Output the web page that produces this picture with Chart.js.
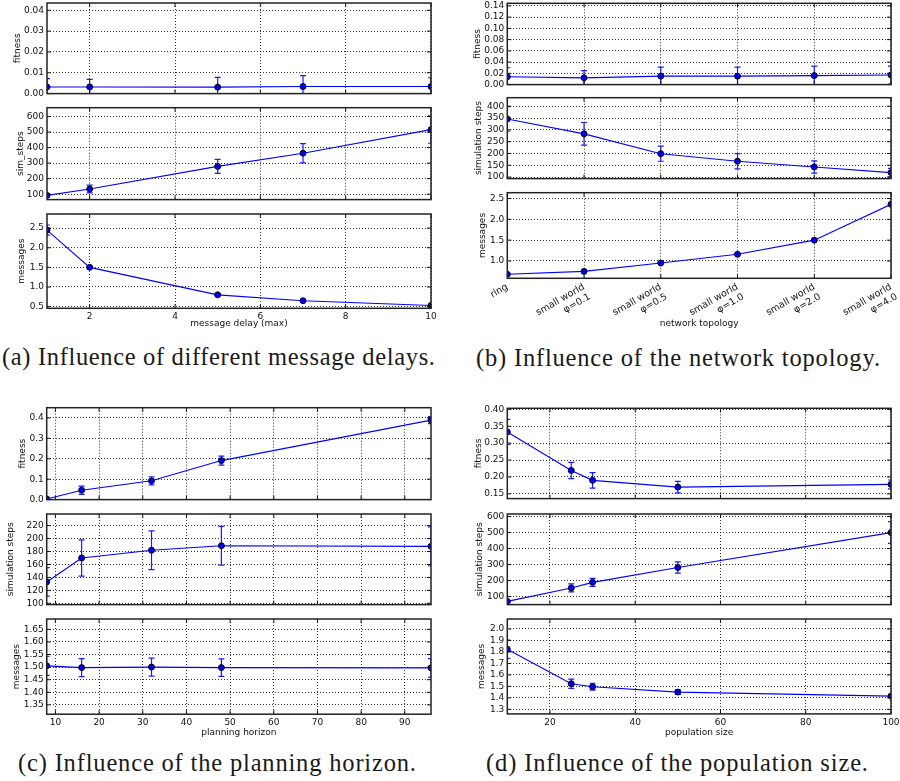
<!DOCTYPE html>
<html>
<head>
<meta charset="utf-8">
<script src="https://cdn.jsdelivr.net/npm/chart.js@4.4.1/dist/chart.umd.min.js"></script>
<style>
  body { margin: 0; background: #fff; width: 900px; height: 781px; position: relative; overflow: hidden; }
  canvas { position: absolute; }
  .cap { position: absolute; left: 0; top: 0; font-family: "Liberation Serif", "DejaVu Serif", serif; font-size: 24.5px;
         color: #1a1a1a; white-space: nowrap; line-height: 1; }
</style>
</head>
<body>
<div class="cap" data-x="2" data-w="433" data-y="357">(a) Influence of different message delays.</div>
<div class="cap" data-x="476" data-w="404" data-y="358">(b) Influence of the network topology.</div>
<div class="cap" data-x="18" data-w="398" data-y="763">(c) Influence of the planning horizon.</div>
<div class="cap" data-x="486" data-w="382" data-y="763">(d) Influence of the population size.</div>
<script>
// ---- (a) message delay ----
const delayX = [1, 2, 5, 7, 10];
const delayFitness = [0.0032, 0.0032, 0.0031, 0.0034, 0.0034];
const delayFitnessErr = [0.0040, 0.0036, 0.0047, 0.0052, 0.0042];
const delaySteps = [92, 133, 279, 364, 516];
const delayStepsErr = [8, 25, 45, 62, 88];
const delayMsgs = [2.45, 1.50, 0.80, 0.65, 0.53];
const delayMsgsErr = [0.13, 0.02, 0.01, 0.01, 0.01];

// ---- (b) network topology ----
const topoLabels = ["ring", ["small world", "\u03c6=0.1"], ["small world", "\u03c6=0.5"],
  ["small world", "\u03c6=1.0"], ["small world", "\u03c6=2.0"], ["small world", "\u03c6=4.0"]];
const topoX = [0, 1, 2, 3, 4, 5];
const topoFitness = [0.014, 0.012, 0.015, 0.015, 0.016, 0.017];
const topoFitnessErr = [0.016, 0.013, 0.016, 0.016, 0.017, 0.016];
const topoSteps = [346, 283, 199, 167, 143, 119];
const topoStepsErr = [52, 48, 32, 32, 26, 18];
const topoMsgs = [0.68, 0.75, 0.95, 1.16, 1.50, 2.36];
const topoMsgsErr = [0.01, 0.01, 0.01, 0.01, 0.01, 0.01];

// ---- (c) planning horizon ----
const horizonX = [8, 16, 32, 48, 96];
const horizonFitness = [0.003, 0.046, 0.092, 0.191, 0.389];
const horizonFitnessErr = [0.003, 0.020, 0.020, 0.022, 0.017];
const horizonSteps = [133, 170, 182, 189, 188];
const horizonStepsErr = [22, 28, 30, 30, 30];
const horizonMsgs = [1.505, 1.498, 1.500, 1.498, 1.497];
const horizonMsgsErr = [0.038, 0.036, 0.036, 0.035, 0.037];

// ---- (d) population size ----
const popX = [10, 25, 30, 50, 100];
const popFitness = [0.333, 0.219, 0.190, 0.170, 0.178];
const popFitnessErr = [0.037, 0.024, 0.023, 0.017, 0.013];
const popSteps = [70, 154, 189, 282, 500];
const popStepsErr = [6, 25, 25, 35, 68];
const popMsgs = [1.824, 1.523, 1.497, 1.450, 1.415];
const popMsgsErr = [0.08, 0.04, 0.03, 0.02, 0.01];

// ---- tick labels ----
const delayXTicks = [2, 4, 6, 8, 10];
const horizonXTicks = [10, 20, 30, 40, 50, 60, 70, 80, 90];
const popXTicks = [20, 40, 60, 80, 100];
const ticksA1 = [0, 0.01, 0.02, 0.03, 0.04];
const ticksA2 = [100, 200, 300, 400, 500, 600];
const ticksA3 = [0.5, 1.0, 1.5, 2.0, 2.5];
const ticksB1 = [0, 0.02, 0.04, 0.06, 0.08, 0.10, 0.12, 0.14];
const ticksB2 = [100, 150, 200, 250, 300, 350, 400];
const ticksB3 = [1.0, 1.5, 2.0, 2.5];
const ticksC1 = [0.0, 0.1, 0.2, 0.3, 0.4];
const ticksC2 = [100, 120, 140, 160, 180, 200, 220];
const ticksC3 = [1.35, 1.40, 1.45, 1.50, 1.55, 1.60, 1.65];
const ticksD1 = [0.15, 0.20, 0.25, 0.30, 0.35, 0.40];
const ticksD2 = [100, 200, 300, 400, 500, 600];
const ticksD3 = [1.3, 1.4, 1.5, 1.6, 1.7, 1.8, 1.9, 2.0];

Chart.defaults.font.family = "'DejaVu Sans', sans-serif";
Chart.defaults.font.size = 9;
Chart.defaults.color = "#111";
Chart.defaults.animation = false;

// error bars drawn under the markers, clipped like matplotlib
const errorBars = {
    id: "errorBars",
    beforeDatasetsDraw(chart) {
        const { ctx, chartArea: a, scales: { x, y } } = chart;
        ctx.save();
        ctx.beginPath();
        ctx.rect(a.left, a.top, a.right - a.left, a.bottom - a.top);
        ctx.clip();
        ctx.strokeStyle = "#1a1aff";
        ctx.lineWidth = 1.2;
        chart.data.datasets.forEach(ds => {
            if (!ds.err) return;
            ds.data.forEach((p, i) => {
                const e = ds.err[i];
                const px = x.getPixelForValue(p.x);
                const top = y.getPixelForValue(p.y + e);
                const bot = y.getPixelForValue(p.y - e);
                ctx.beginPath();
                ctx.moveTo(px, top); ctx.lineTo(px, bot);
                ctx.moveTo(px - 3, top); ctx.lineTo(px + 3, top);
                ctx.moveTo(px - 3, bot); ctx.lineTo(px + 3, bot);
                ctx.stroke();
            });
        });
        ctx.restore();
    },
};

// axes frame with inward tick marks on all four sides
const frame = {
    id: "frame",
    afterDraw(chart) {
        const { ctx, chartArea: a, scales: { x, y } } = chart;
        ctx.save();
        ctx.strokeStyle = "#111";
        ctx.lineWidth = 1;
        ctx.beginPath();
        x.ticks.forEach(t => {
            const px = x.getPixelForValue(t.value);
            ctx.moveTo(px, a.top); ctx.lineTo(px, a.top + 4);
            ctx.moveTo(px, a.bottom); ctx.lineTo(px, a.bottom - 4);
        });
        y.ticks.forEach(t => {
            const py = y.getPixelForValue(t.value);
            ctx.moveTo(a.left, py); ctx.lineTo(a.left + 4, py);
            ctx.moveTo(a.right, py); ctx.lineTo(a.right - 4, py);
        });
        ctx.stroke();
        ctx.lineWidth = 1.5;
        ctx.strokeStyle = "#222";
        ctx.strokeRect(a.left, a.top, a.right - a.left, a.bottom - a.top);
        ctx.restore();
    },
};

function subplot(s) {
    const T = 12, R = 16;
    const canvasLeft = Math.round(s.labelX - 5.4);
    const canvasTop = Math.round(s.top - T);
    const L = s.left - canvasLeft;
    const top = s.top - canvasTop;
    const B = s.xTitle ? s.xTitleY + 5.4 - s.bottom : 4;
    const W = Math.round(L + (s.right - s.left) + R);
    const H = Math.round(top + (s.bottom - s.top) + B);

    const cv = document.createElement("canvas");
    cv.width = W; cv.height = H;
    cv.style.left = canvasLeft + "px";
    cv.style.top = canvasTop + "px";
    cv.style.width = W + "px";
    cv.style.height = H + "px";
    document.body.appendChild(cv);

    const gridCol = "rgba(0,0,0,0.8)";
    new Chart(cv, {
        type: "line",
        data: {
            datasets: [{
                data: s.xs.map((v, i) => ({ x: v, y: s.ys[i] })),
                err: s.err,
                borderColor: "#0000ff",
                borderWidth: 1.1,
                pointRadius: 3,
                pointBackgroundColor: "#0000ee",
                pointBorderColor: "#000",
                pointBorderWidth: 0.9,
                tension: 0,
            }],
        },
        options: {
            responsive: false,
            devicePixelRatio: 1,
            layout: { padding: { top: top, right: R, left: 0, bottom: 0 } },
            plugins: { legend: { display: false }, tooltip: { enabled: false } },
            scales: {
                x: {
                    type: "linear",
                    min: s.xMin, max: s.xMax,
                    afterBuildTicks: sc => { sc.ticks = s.xTicks.map(v => ({ value: v })); },
                    afterFit: sc => { sc.height = B; },
                    ticks: {
                        display: !!s.xTitle,
                        autoSkip: false,
                        padding: 3,
                        minRotation: s.rot || 0, maxRotation: s.rot || 0,
                        font: { size: s.rot ? 9.5 : 9 },
                        callback: s.xLabel || (v => String(v)),
                    },
                    grid: { color: gridCol, lineWidth: 1, drawTicks: false },
                    border: { display: false, dash: [1, 2] },
                    title: { display: !!s.xTitle, text: s.xTitle || "", padding: 0, font: { size: 9 } },
                },
                y: {
                    type: "linear",
                    min: s.yMin, max: s.yMax,
                    afterBuildTicks: sc => { sc.ticks = s.yTicks.map(v => ({ value: v })); },
                    afterFit: sc => { sc.width = L; },
                    ticks: { autoSkip: false, padding: 3, callback: v => v.toFixed(s.dec) },
                    grid: { color: gridCol, lineWidth: 1, drawTicks: false },
                    border: { display: false, dash: [1, 2] },
                    title: { display: true, text: s.yTitle, padding: 0, font: { size: 9 } },
                },
            },
        },
        plugins: [errorBars, frame],
    });
}

const colA = { left: 47, right: 430.5 };
const colB = { left: 507.3, right: 890.7 };
const colC = { left: 46.7, right: 430.7 };

const panels = [
    { ...colA, top: 3, bottom: 98.3, labelX: 17.3, yTitle: "fitness", yMin: 0, yMax: 0.0435, yTicks: ticksA1, dec: 2,
      xMin: 1, xMax: 10, xTicks: delayXTicks, xs: delayX, ys: delayFitness, err: delayFitnessErr },
    { ...colA, top: 107.7, bottom: 204, labelX: 20, yTitle: "sim_steps", yMin: 65, yMax: 657, yTicks: ticksA2, dec: 0,
      xMin: 1, xMax: 10, xTicks: delayXTicks, xs: delayX, ys: delaySteps, err: delayStepsErr },
    { ...colA, top: 214, bottom: 308.7, labelX: 21.3, yTitle: "messages", yMin: 0.457, yMax: 2.86, yTicks: ticksA3, dec: 1,
      xMin: 1, xMax: 10, xTicks: delayXTicks, xs: delayX, ys: delayMsgs, err: delayMsgsErr,
      xTitle: "message delay (max)", xTitleY: 324 },

    { ...colB, top: 3.3, bottom: 89, labelX: 477, yTitle: "fitness", yMin: 0, yMax: 0.1446, yTicks: ticksB1, dec: 2,
      xMin: 0, xMax: 5, xTicks: topoX, xs: topoX, ys: topoFitness, err: topoFitnessErr },
    { ...colB, top: 97.7, bottom: 183.3, labelX: 478, yTitle: "simulation steps", yMin: 93.6, yMax: 436, yTicks: ticksB2, dec: 0,
      xMin: 0, xMax: 5, xTicks: topoX, xs: topoX, ys: topoSteps, err: topoStepsErr },
    { ...colB, top: 192.7, bottom: 278.7, labelX: 482, yTitle: "messages", yMin: 0.584, yMax: 2.64, yTicks: ticksB3, dec: 1,
      xMin: 0, xMax: 5, xTicks: topoX, xs: topoX, ys: topoMsgs, err: topoMsgsErr,
      xTitle: "network topology", xTitleY: 324, rot: 30, xLabel: v => topoLabels[v] },

    { ...colC, top: 407.7, bottom: 504, labelX: 22.8, yTitle: "fitness", yMin: 0, yMax: 0.45, yTicks: ticksC1, dec: 1,
      xMin: 8, xMax: 96, xTicks: horizonXTicks, xs: horizonX, ys: horizonFitness, err: horizonFitnessErr },
    { ...colC, top: 514, bottom: 609, labelX: 10.8, yTitle: "simulation steps", yMin: 98, yMax: 238, yTicks: ticksC2, dec: 0,
      xMin: 8, xMax: 96, xTicks: horizonXTicks, xs: horizonX, ys: horizonSteps, err: horizonStepsErr },
    { ...colC, top: 619, bottom: 714.3, labelX: 16, yTitle: "messages", yMin: 1.313, yMax: 1.691, yTicks: ticksC3, dec: 2,
      xMin: 8, xMax: 96, xTicks: horizonXTicks, xs: horizonX, ys: horizonMsgs, err: horizonMsgsErr,
      xTitle: "planning horizon", xTitleY: 732.7 },

    { ...colB, top: 408.3, bottom: 503.3, labelX: 478, yTitle: "fitness", yMin: 0.136, yMax: 0.403, yTicks: ticksD1, dec: 2,
      xMin: 10, xMax: 100, xTicks: popXTicks, xs: popX, ys: popFitness, err: popFitnessErr },
    { ...colB, top: 514, bottom: 609, labelX: 479.7, yTitle: "simulation steps", yMin: 50, yMax: 616, yTicks: ticksD2, dec: 0,
      xMin: 10, xMax: 100, xTicks: popXTicks, xs: popX, ys: popSteps, err: popStepsErr },
    { ...colB, top: 619, bottom: 714.3, labelX: 481.7, yTitle: "messages", yMin: 1.26, yMax: 2.087, yTicks: ticksD3, dec: 1,
      xMin: 10, xMax: 100, xTicks: popXTicks, xs: popX, ys: popMsgs, err: popMsgsErr,
      xTitle: "population size", xTitleY: 733 },
];

panels.forEach(subplot);

// captions: measure at left 0, then widen the letter spacing to the width of the original
document.querySelectorAll(".cap").forEach(el => {
    const r = el.getBoundingClientRect();
    const n = el.textContent.length;
    const extra = (+el.dataset.w - r.width) / (n - 1);
    el.style.letterSpacing = extra.toFixed(3) + "px";
    el.style.left = el.dataset.x + "px";
    el.style.top = (+el.dataset.y - r.height / 2) + "px";
});
</script>
</body>
</html>
